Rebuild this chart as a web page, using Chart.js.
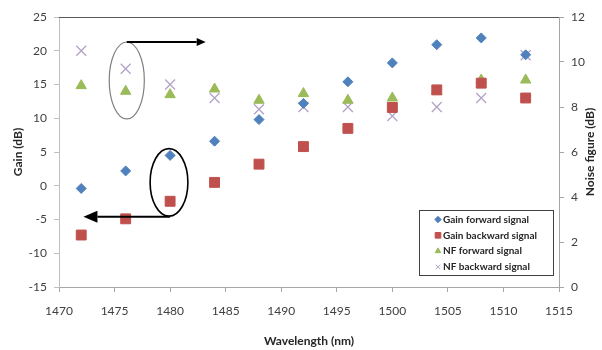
<!DOCTYPE html>
<html>
<head>
<title>Gain and noise figure</title>
<script src="https://cdn.jsdelivr.net/npm/chart.js"></script>
<style>
body { margin: 0; background: #fff; }
</style>
</head>
<body>
<canvas id="gainChart" width="602" height="350"></canvas>
<script>
const wavelengths = [1472, 1476, 1480, 1484, 1488, 1492, 1496, 1500, 1504, 1508, 1512];
const gainForward = [-0.4, 2.2, 4.5, 6.6, 9.8, 12.2, 15.4, 18.2, 20.9, 21.9, 19.4];
const gainBackward = [-7.3, -4.9, -2.3, 0.5, 3.2, 5.8, 8.5, 11.6, 14.2, 15.2, 13.0];
const nfForward = [8.95, 8.7, 8.55, 8.8, 8.3, 8.6, 8.3, 8.4, 8.7, 9.2, 9.2];
const nfBackward = [10.5, 9.7, 9.0, 8.4, 7.9, 8.0, 8.0, 7.6, 8.0, 8.4, 10.3];

// hand-drawn callouts, in data units (wavelength, gain)
const ellipses = [
    {x: 1476.1, y: 15.6, rx: 1.58, ry: 5.7, color: '#808080', width: 1.2},
    {x: 1479.9, y: 0.5, rx: 1.7, ry: 5.0, color: '#000000', width: 1.6}
];
const arrows = [
    {x0: 1476.1, x1: 1483.2, y: 21.3, head: 9, half: 4},
    {x0: 1480.0, x1: 1472.2, y: -4.6, head: 14, half: 6}
];

const FONT = 'Lato, "Liberation Sans", sans-serif';

function pts(ys) {
    return wavelengths.map((x, i) => ({x: x, y: ys[i]}));
}

const callouts = {
    id: 'callouts',
    afterDatasetsDraw(chart) {
        const ctx = chart.ctx;
        const xs = chart.scales.x, ys = chart.scales.y;
        ctx.save();
        ellipses.forEach(e => {
            const cx = xs.getPixelForValue(e.x), cy = ys.getPixelForValue(e.y);
            const rx = Math.abs(xs.getPixelForValue(e.x + e.rx) - cx);
            const ry = Math.abs(ys.getPixelForValue(e.y + e.ry) - cy);
            ctx.beginPath();
            ctx.ellipse(cx, cy, rx, ry, 0, 0, Math.PI * 2);
            ctx.strokeStyle = e.color;
            ctx.lineWidth = e.width;
            ctx.stroke();
        });
        arrows.forEach(a => {
            const x0 = xs.getPixelForValue(a.x0), x1 = xs.getPixelForValue(a.x1);
            const y = ys.getPixelForValue(a.y);
            const dir = x1 > x0 ? 1 : -1;
            ctx.beginPath();
            ctx.moveTo(x0, y);
            ctx.lineTo(x1 - dir * a.head, y);
            ctx.strokeStyle = '#000';
            ctx.lineWidth = 2;
            ctx.stroke();
            ctx.beginPath();
            ctx.moveTo(x1, y);
            ctx.lineTo(x1 - dir * a.head, y - a.half);
            ctx.lineTo(x1 - dir * a.head, y + a.half);
            ctx.closePath();
            ctx.fillStyle = '#000';
            ctx.fill();
        });
        ctx.restore();
    }
};

const frame = {
    id: 'frame',
    beforeDatasetsDraw(chart) {
        const ctx = chart.ctx, a = chart.chartArea;
        ctx.save();
        ctx.beginPath();
        ctx.moveTo(a.left, a.top + 0.5);
        ctx.lineTo(a.right, a.top + 0.5);
        ctx.strokeStyle = '#5a5a5a';
        ctx.lineWidth = 1;
        ctx.stroke();
        // right axis title reads bottom-to-top, like the left one
        ctx.translate(590, (a.top + a.bottom) / 2);
        ctx.rotate(-Math.PI / 2);
        ctx.font = 'bold 12px ' + FONT;
        ctx.fillStyle = '#262626';
        ctx.textAlign = 'center';
        ctx.textBaseline = 'middle';
        ctx.fillText('Noise figure (dB)', 0, 0);
        ctx.restore();
    }
};

const boxLegend = {
    id: 'boxLegend',
    afterDraw(chart) {
        const ctx = chart.ctx;
        const left = 419, top = 210, w = 134, h = 65;
        ctx.save();
        ctx.fillStyle = '#fff';
        ctx.fillRect(left, top, w, h);
        ctx.strokeStyle = '#404040';
        ctx.lineWidth = 1;
        ctx.strokeRect(left + 0.5, top + 0.5, w, h);
        ctx.font = 'bold 10px ' + FONT;
        ctx.textBaseline = 'middle';
        chart.data.datasets.forEach((ds, i) => {
            const y = top + 9.5 + i * 15.8;
            ctx.fillStyle = ds.backgroundColor;
            ctx.strokeStyle = ds.borderColor;
            Chart.helpers.drawPoint(ctx, {
                pointStyle: ds.pointStyle,
                radius: ds.pointStyle === 'rect' ? 4 : 3.2,
                borderWidth: 1
            }, left + 19, y);
            ctx.fillStyle = '#262626';
            ctx.fillText(ds.label, left + 24, y);
        });
        ctx.restore();
    }
};

const ctx = document.getElementById('gainChart').getContext('2d');
const chart = new Chart(ctx, {
    type: 'scatter',
    data: {
        datasets: [
            {
                label: 'Gain forward signal',
                data: pts(gainForward),
                yAxisID: 'y',
                pointStyle: 'rectRot',
                pointRadius: 5,
                backgroundColor: '#4F81BD',
                borderColor: '#4F81BD'
            },
            {
                label: 'Gain backward signal',
                data: pts(gainBackward),
                yAxisID: 'y',
                pointStyle: 'rect',
                pointRadius: 7,
                backgroundColor: '#C0504D',
                borderColor: '#C0504D'
            },
            {
                label: 'NF forward signal',
                data: pts(nfForward),
                yAxisID: 'y1',
                pointStyle: 'triangle',
                pointRadius: 6,
                backgroundColor: '#9BBB59',
                borderColor: '#9BBB59'
            },
            {
                label: 'NF backward signal',
                data: pts(nfBackward),
                yAxisID: 'y1',
                pointStyle: 'crossRot',
                pointRadius: 7,
                pointBorderWidth: 1.3,
                backgroundColor: '#B3A2C7',
                borderColor: '#B3A2C7'
            }
        ]
    },
    options: {
        responsive: false,
        animation: false,
        layout: { padding: { top: 17 } },
        plugins: {
            legend: { display: false },
            tooltip: { enabled: false }
        },
        scales: {
            x: {
                type: 'linear',
                min: 1470,
                max: 1515,
                ticks: {
                    stepSize: 5,
                    padding: 12,
                    color: '#404040',
                    font: { family: FONT, size: 12 },
                    callback: v => String(v)
                },
                grid: { drawOnChartArea: false, tickLength: 5, color: '#a6a6a6' },
                border: { color: '#a6a6a6' },
                title: {
                    display: true,
                    text: 'Wavelength (nm)',
                    color: '#262626',
                    font: { family: FONT, size: 12, weight: 'bold' },
                    padding: { top: 0, bottom: 2 }
                },
                afterFit(s) { s.height = 63; }
            },
            y: {
                position: 'left',
                min: -15,
                max: 25,
                ticks: { stepSize: 5, padding: 7, color: '#404040', font: { family: FONT, size: 12 } },
                grid: { drawOnChartArea: false, tickLength: 5, color: '#bfbfbf' },
                border: { color: '#bfbfbf' },
                title: {
                    display: true,
                    text: 'Gain (dB)',
                    color: '#262626',
                    font: { family: FONT, size: 12, weight: 'bold' },
                    padding: { top: 11, bottom: 0 }
                },
                afterFit(s) { s.width = 59; }
            },
            y1: {
                position: 'right',
                min: 0,
                max: 12,
                ticks: { stepSize: 2, padding: 7, color: '#404040', font: { family: FONT, size: 12 } },
                grid: { drawOnChartArea: false, tickLength: 5, color: '#a6a6a6' },
                border: { color: '#a6a6a6' },
                afterFit(s) { s.width = 43; }
            }
        }
    },
    plugins: [frame, callouts, boxLegend]
});
</script>
</body>
</html>
